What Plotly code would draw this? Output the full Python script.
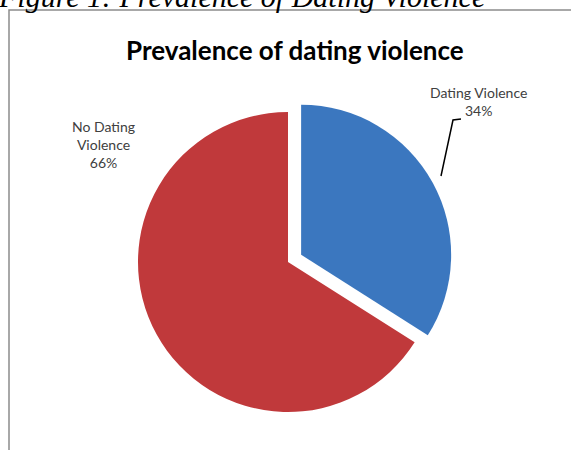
import plotly.graph_objects as go

labels = ["Dating Violence", "No Dating Violence"]
values = [34, 66]
colors = ["#3B77BF", "#C0393B"]
pulls = [0.1, 0]
label_text = ["Dating Violence<br>34%", "No Dating<br>Violence<br>66%"]

W, H = 571, 450

def px(x):
    return x / W

def py(y):
    return 1 - y / H

fig = go.Figure(go.Pie(
    labels=labels,
    values=values,
    marker=dict(colors=colors, line=dict(width=0)),
    pull=pulls,
    sort=False,
    direction="clockwise",
    rotation=0,
    textinfo="none",
    hoverinfo="label+percent",
    showlegend=False,
    domain=dict(x=[px(123), px(453)], y=[py(427), py(97)]),
))

fig.add_shape(type="rect", xref="paper", yref="paper",
              x0=px(9), x1=1.05, y0=py(10), y1=-0.05,
              line=dict(color="#8C8C8C", width=1.5), fillcolor="rgba(0,0,0,0)",
              layer="below")

fig.add_annotation(text="<i>Figure 1: Prevalence of Dating Violence</i>",
                   xref="paper", yref="paper", x=px(-4), y=py(15),
                   xanchor="left", yanchor="bottom", showarrow=False,
                   font=dict(family="Liberation Serif", size=30, color="#000000"))

fig.add_annotation(text="<b>Prevalence of dating violence</b>",
                   xref="paper", yref="paper", x=px(295), y=py(50),
                   xanchor="center", yanchor="middle", showarrow=False,
                   font=dict(family="Lato", size=26, color="#000000"))

fig.add_annotation(text=label_text[1], xref="paper", yref="paper",
                   x=px(103), y=py(144), xanchor="center", yanchor="middle",
                   showarrow=False, align="center",
                   font=dict(family="Lato", size=14, color="#404040"))

fig.add_annotation(text=label_text[0], xref="paper", yref="paper",
                   x=px(478), y=py(101), xanchor="center", yanchor="middle",
                   showarrow=False, align="center",
                   font=dict(family="Lato", size=14, color="#404040"))

fig.add_shape(type="path", xref="paper", yref="paper",
              path=f"M {px(461)} {py(119)} L {px(453)} {py(120)} L {px(441)} {py(176)}",
              line=dict(color="#000000", width=1.5))

fig.update_layout(width=W, height=H, margin=dict(l=0, r=0, t=0, b=0),
                  paper_bgcolor="white", plot_bgcolor="white")

fig.write_html("out.html")
